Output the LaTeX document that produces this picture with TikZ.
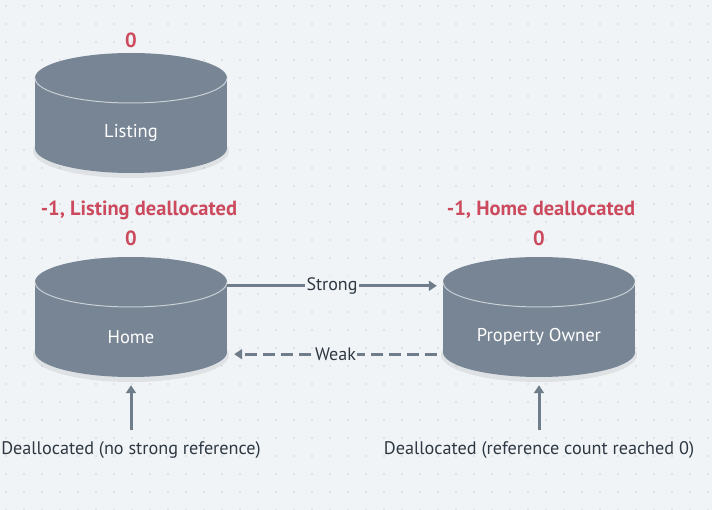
\documentclass[tikz,border=0pt]{standalone}
\usepackage{fontspec}
\setmainfont{PT Sans}
\usetikzlibrary{arrows.meta}
\definecolor{bg}{HTML}{F1F4F7}
\definecolor{dotc}{HTML}{CDD2D8}
\definecolor{cyl}{HTML}{778594}
\definecolor{cylrim}{HTML}{C9D0D7}
\definecolor{redt}{HTML}{CC4A5E}
\definecolor{txt}{HTML}{2E3842}
\definecolor{arr}{HTML}{6F7C89}
\tikzset{
  pics/dbcyl/.style={code={
    \fill[black, opacity=0.07] (0,73) ellipse (98 and 27);
    \fill[cyl] (-96,0) rectangle (96,70);
    \fill[cyl] (0,70) ellipse (96 and 25);
    \fill[cyl] (0,0) ellipse (96 and 25);
    \draw[cylrim, line width=1pt] (-96,0) arc[start angle=180, end angle=0, x radius=96, y radius=25];
  }},
  cylbox/.style={minimum width=192pt, minimum height=70pt, inner sep=0pt},
  cyltext/.style={text=white, font=\fontsize{18.5}{22}\selectfont, inner sep=0pt},
  countlbl/.style={text=redt, font=\bfseries\fontsize{20.5}{24}\selectfont, inner sep=0pt},
  conn/.style={draw=arr, line width=2.8pt, -{Triangle[length=8pt,width=10pt]}},
  weakconn/.style={conn, dash pattern=on 12pt off 6pt},
  edgelbl/.style={fill=bg, text=txt, font=\fontsize{18}{22}\selectfont, inner sep=1.5pt},
  note/.style={text=txt, font=\fontsize{18.2}{22}\selectfont, inner sep=0pt},
}
\begin{document}
\begin{tikzpicture}[x=1pt, y=-1pt]
  \fill[bg] (0,0) rectangle (712,510);
  \useasboundingbox (0,0) rectangle (712,510);
  \foreach \i in {0,...,39} {
    \foreach \j in {0,...,28} {
      \fill[dotc] (\i*18+6, \j*18+6) circle (0.9);
    }
  }
  % cylinders
  \pic at (131,78) {dbcyl};
  \pic at (131,282) {dbcyl};
  \pic at (539,282) {dbcyl};
  \node[cylbox] (listing) at (131,113) {};
  \node[cylbox] (home) at (131,317) {};
  \node[cylbox] (owner) at (539,317) {};
  \node[cyltext] (listingt) at ([yshift=-20pt]listing.center) {Listing};
  \node[cyltext] (homet) at ([yshift=-20pt]home.center) {Home};
  \node[cyltext] (ownert) at ([yshift=-20pt]owner.center) {Property Owner};
  % counts
  \node[countlbl] (c1) at (131,40) {0};
  \node[countlbl] (c2a) at (139,210) {-1, Listing deallocated};
  \node[countlbl] (c2) at (131,238) {0};
  \node[countlbl] (c3a) at (541,210) {-1, Home deallocated};
  \node[countlbl] (c3) at (539,238) {0};
  % connectors
  \draw[conn] ([yshift=-4pt]home.north east) -- node[edgelbl] (strong) {Strong} ([xshift=-6pt, yshift=-4pt]owner.north west);
  \draw[weakconn] ([xshift=-6pt, yshift=-2pt]owner.south west) -- node[edgelbl] (weak) {Weak} ([xshift=7pt, yshift=-2pt]home.south east);
  % notes
  \node[note] (n1) at (131,450) {Deallocated (no strong reference)};
  \node[note] (n2) at (539,450) {Deallocated (reference count reached 0)};
  \draw[conn, line width=3pt] ([yshift=11pt]n1.north) -- ([yshift=-33pt]home.south);
  \draw[conn, line width=3pt] ([yshift=11pt]n2.north) -- ([yshift=-33pt]owner.south);
\end{tikzpicture}
\end{document}
